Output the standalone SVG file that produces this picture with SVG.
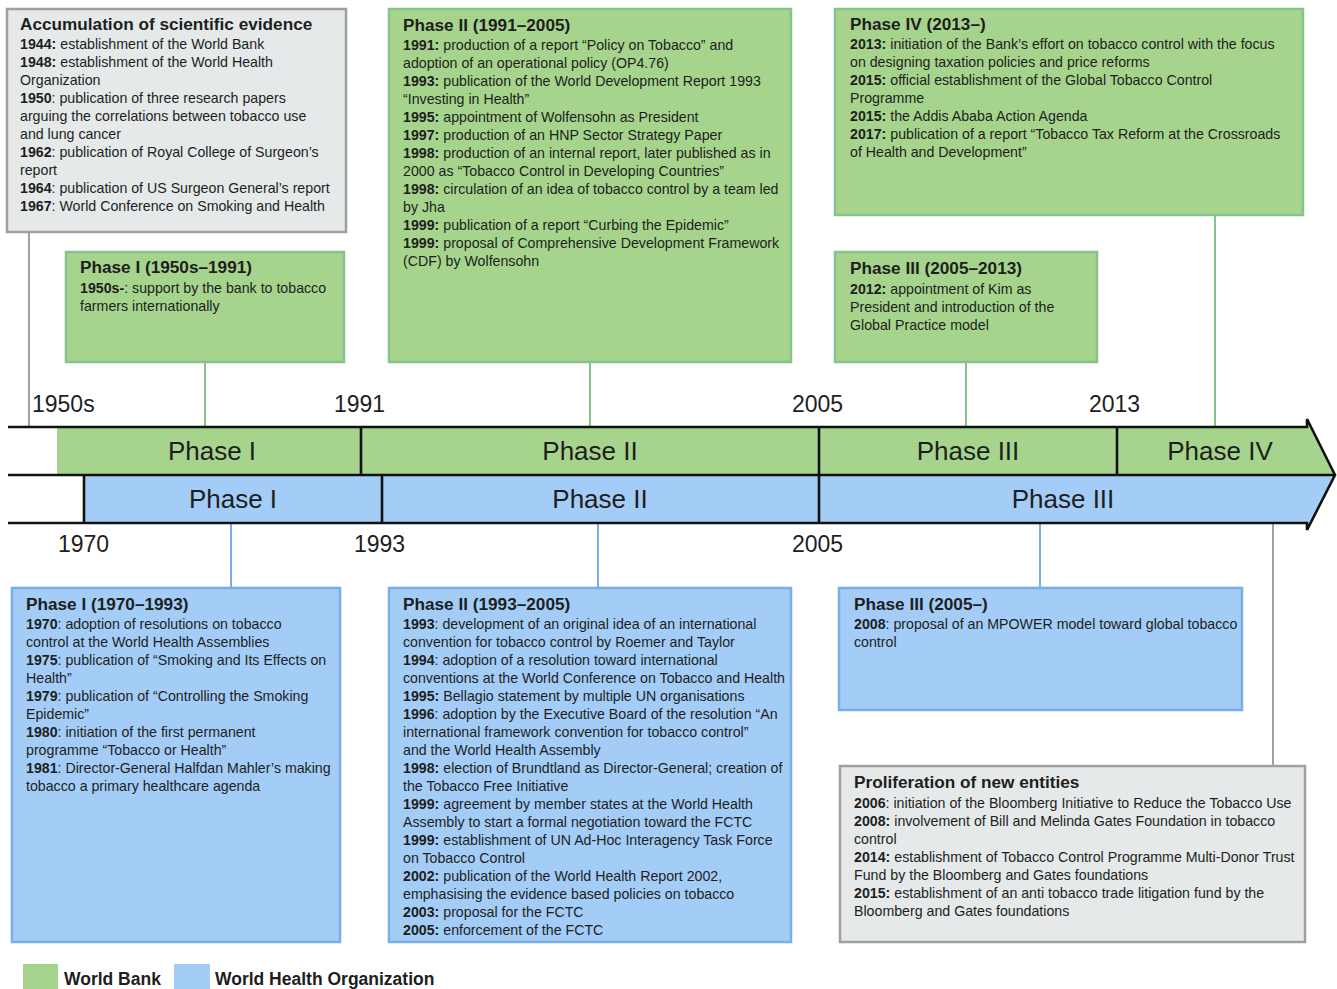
<svg xmlns="http://www.w3.org/2000/svg" width="1337" height="989" viewBox="0 0 1337 989">
  <style>
    .wb { fill: #a6d48d; stroke: #86c38c; stroke-width: 2.5; }
    .who { fill: #a3cdf6; stroke: #7aaee6; stroke-width: 2.5; }
    .ev { fill: #e5e9e9; stroke: #a0a0a0; stroke-width: 2.5; }
    text { font-family: "Liberation Sans", Arial, sans-serif; fill: #1e1e1e; }
    .h { font-size: 17.2px; font-weight: bold; }
    .t { font-size: 14.2px; }
    .t tspan.y { font-weight: bold; }
    .phase { font-size: 26px; text-anchor: middle; }
    .year { font-size: 23px; }
    .leg { font-size: 17.5px; font-weight: bold; }
    .c-wb { stroke: #86c38c; stroke-width: 2; }
    .c-who { stroke: #7aaee6; stroke-width: 2; }
    .c-ev { stroke: #a0a0a0; stroke-width: 2; }
    .edge { fill: none; stroke: #111; stroke-width: 2.6; }
  </style>

  <!-- connectors from the boxes to the timeline -->
  <g id="connectors">
    <line class="c-ev" x1="29" y1="232" x2="29" y2="427"/>
    <line class="c-wb" x1="205" y1="362" x2="205" y2="427"/>
    <line class="c-wb" x1="590" y1="362" x2="590" y2="427"/>
    <line class="c-wb" x1="966" y1="362" x2="966" y2="427"/>
    <line class="c-wb" x1="1215" y1="215" x2="1215" y2="427"/>
    <line class="c-who" x1="231" y1="523" x2="231" y2="588"/>
    <line class="c-who" x1="598" y1="523" x2="598" y2="588"/>
    <line class="c-who" x1="1040" y1="523" x2="1040" y2="588"/>
    <line class="c-ev" x1="1273" y1="523" x2="1273" y2="766"/>
  </g>

  <!-- timeline arrow -->
  <g id="timeline">
    <polygon points="57,427 1307,427 1307,419 1335,475 57,475" fill="#a6d48d"/>
    <polygon points="84,475 1335,475 1307,530 1307,523 84,523" fill="#a3cdf6"/>
    <path class="edge" d="M8,427 H1307 V419 L1335,475 L1307,530 V523 H8 M8,475 H1335"/>
    <path class="edge" d="M361,427 V475 M819,427 V475 M1117,427 V475 M84,475 V523 M382,475 V523 M819,475 V523"/>
    <text class="phase" x="212" y="460">Phase I</text>
    <text class="phase" x="590" y="460">Phase II</text>
    <text class="phase" x="968" y="460">Phase III</text>
    <text class="phase" x="1220" y="460">Phase IV</text>
    <text class="phase" x="233" y="508">Phase I</text>
    <text class="phase" x="600" y="508">Phase II</text>
    <text class="phase" x="1063" y="508">Phase III</text>
    <text class="year" x="32" y="412">1950s</text>
    <text class="year" x="334" y="412">1991</text>
    <text class="year" x="792" y="412">2005</text>
    <text class="year" x="1089" y="412">2013</text>
    <text class="year" x="58" y="552">1970</text>
    <text class="year" x="354" y="552">1993</text>
    <text class="year" x="792" y="552">2005</text>
  </g>

  <g id="evidence">
    <rect class="ev" x="7" y="9" width="339" height="223"/>
    <text class="h" x="20" y="30">Accumulation of scientific evidence</text>
    <text class="t">
      <tspan x="20" y="49"><tspan class="y">1944:</tspan> establishment of the World Bank</tspan>
      <tspan x="20" y="67"><tspan class="y">1948:</tspan> establishment of the World Health</tspan>
      <tspan x="20" y="85">Organization</tspan>
      <tspan x="20" y="103"><tspan class="y">1950</tspan>: publication of three research papers</tspan>
      <tspan x="20" y="121">arguing the correlations between tobacco use</tspan>
      <tspan x="20" y="139">and lung cancer</tspan>
      <tspan x="20" y="157"><tspan class="y">1962</tspan>: publication of Royal College of Surgeon’s</tspan>
      <tspan x="20" y="175">report</tspan>
      <tspan x="20" y="193"><tspan class="y">1964</tspan>: publication of US Surgeon General’s report</tspan>
      <tspan x="20" y="211"><tspan class="y">1967</tspan>: World Conference on Smoking and Health</tspan>
    </text>
  </g>

  <g id="wb-phase1">
    <rect class="wb" x="66" y="252" width="278" height="110"/>
    <text class="h" x="80" y="273">Phase I (1950s–1991)</text>
    <text class="t">
      <tspan x="80" y="293"><tspan class="y">1950s-</tspan>: support by the bank to tobacco</tspan>
      <tspan x="80" y="311">farmers internationally</tspan>
    </text>
  </g>

  <g id="wb-phase2">
    <rect class="wb" x="389" y="9" width="402" height="353"/>
    <text class="h" x="403" y="31">Phase II (1991–2005)</text>
    <text class="t">
      <tspan x="403" y="50"><tspan class="y">1991:</tspan> production of a report “Policy on Tobacco” and</tspan>
      <tspan x="403" y="68">adoption of an operational policy (OP4.76)</tspan>
      <tspan x="403" y="86"><tspan class="y">1993:</tspan> publication of the World Development Report 1993</tspan>
      <tspan x="403" y="104">“Investing in Health”</tspan>
      <tspan x="403" y="122"><tspan class="y">1995:</tspan> appointment of Wolfensohn as President</tspan>
      <tspan x="403" y="140"><tspan class="y">1997:</tspan> production of an HNP Sector Strategy Paper</tspan>
      <tspan x="403" y="158"><tspan class="y">1998:</tspan> production of an internal report, later published as in</tspan>
      <tspan x="403" y="176">2000 as “Tobacco Control in Developing Countries”</tspan>
      <tspan x="403" y="194"><tspan class="y">1998:</tspan> circulation of an idea of tobacco control by a team led</tspan>
      <tspan x="403" y="212">by Jha</tspan>
      <tspan x="403" y="230"><tspan class="y">1999:</tspan> publication of a report “Curbing the Epidemic”</tspan>
      <tspan x="403" y="248"><tspan class="y">1999:</tspan> proposal of Comprehensive Development Framework</tspan>
      <tspan x="403" y="266">(CDF) by Wolfensohn</tspan>
    </text>
  </g>

  <g id="wb-phase3">
    <rect class="wb" x="835" y="252" width="262" height="110"/>
    <text class="h" x="850" y="274">Phase III (2005–2013)</text>
    <text class="t">
      <tspan x="850" y="294"><tspan class="y">2012:</tspan> appointment of Kim as</tspan>
      <tspan x="850" y="312">President and introduction of the</tspan>
      <tspan x="850" y="330">Global Practice model</tspan>
    </text>
  </g>

  <g id="wb-phase4">
    <rect class="wb" x="835" y="9" width="468" height="206"/>
    <text class="h" x="850" y="30">Phase IV (2013–)</text>
    <text class="t">
      <tspan x="850" y="49"><tspan class="y">2013:</tspan> initiation of the Bank’s effort on tobacco control with the focus</tspan>
      <tspan x="850" y="67">on designing taxation policies and price reforms</tspan>
      <tspan x="850" y="85"><tspan class="y">2015:</tspan> official establishment of the Global Tobacco Control</tspan>
      <tspan x="850" y="103">Programme</tspan>
      <tspan x="850" y="121"><tspan class="y">2015:</tspan> the Addis Ababa Action Agenda</tspan>
      <tspan x="850" y="139"><tspan class="y">2017:</tspan> publication of a report “Tobacco Tax Reform at the Crossroads</tspan>
      <tspan x="850" y="157">of Health and Development”</tspan>
    </text>
  </g>

  <g id="who-phase1">
    <rect class="who" x="12" y="588" width="328" height="354"/>
    <text class="h" x="26" y="610">Phase I (1970–1993)</text>
    <text class="t">
      <tspan x="26" y="629"><tspan class="y">1970</tspan>: adoption of resolutions on tobacco</tspan>
      <tspan x="26" y="647">control at the World Health Assemblies</tspan>
      <tspan x="26" y="665"><tspan class="y">1975</tspan>: publication of “Smoking and Its Effects on</tspan>
      <tspan x="26" y="683">Health”</tspan>
      <tspan x="26" y="701"><tspan class="y">1979</tspan>: publication of “Controlling the Smoking</tspan>
      <tspan x="26" y="719">Epidemic”</tspan>
      <tspan x="26" y="737"><tspan class="y">1980</tspan>: initiation of the first permanent</tspan>
      <tspan x="26" y="755">programme “Tobacco or Health”</tspan>
      <tspan x="26" y="773"><tspan class="y">1981</tspan>: Director-General Halfdan Mahler’s making</tspan>
      <tspan x="26" y="791">tobacco a primary healthcare agenda</tspan>
    </text>
  </g>

  <g id="who-phase2">
    <rect class="who" x="389" y="588" width="402" height="354"/>
    <text class="h" x="403" y="610">Phase II (1993–2005)</text>
    <text class="t">
      <tspan x="403" y="629"><tspan class="y">1993</tspan>: development of an original idea of an international</tspan>
      <tspan x="403" y="647">convention for tobacco control by Roemer and Taylor</tspan>
      <tspan x="403" y="665"><tspan class="y">1994</tspan>: adoption of a resolution toward international</tspan>
      <tspan x="403" y="683">conventions at the World Conference on Tobacco and Health</tspan>
      <tspan x="403" y="701"><tspan class="y">1995:</tspan> Bellagio statement by multiple UN organisations</tspan>
      <tspan x="403" y="719"><tspan class="y">1996</tspan>: adoption by the Executive Board of the resolution “An</tspan>
      <tspan x="403" y="737">international framework convention for tobacco control”</tspan>
      <tspan x="403" y="755">and the World Health Assembly</tspan>
      <tspan x="403" y="773"><tspan class="y">1998:</tspan> election of Brundtland as Director-General; creation of</tspan>
      <tspan x="403" y="791">the Tobacco Free Initiative</tspan>
      <tspan x="403" y="809"><tspan class="y">1999:</tspan> agreement by member states at the World Health</tspan>
      <tspan x="403" y="827">Assembly to start a formal negotiation toward the FCTC</tspan>
      <tspan x="403" y="845"><tspan class="y">1999:</tspan> establishment of UN Ad-Hoc Interagency Task Force</tspan>
      <tspan x="403" y="863">on Tobacco Control</tspan>
      <tspan x="403" y="881"><tspan class="y">2002:</tspan> publication of the World Health Report 2002,</tspan>
      <tspan x="403" y="899">emphasising the evidence based policies on tobacco</tspan>
      <tspan x="403" y="917"><tspan class="y">2003:</tspan> proposal for the FCTC</tspan>
      <tspan x="403" y="935"><tspan class="y">2005:</tspan> enforcement of the FCTC</tspan>
    </text>
  </g>

  <g id="who-phase3">
    <rect class="who" x="839" y="588" width="403" height="122"/>
    <text class="h" x="854" y="610">Phase III (2005–)</text>
    <text class="t">
      <tspan x="854" y="629"><tspan class="y">2008</tspan>: proposal of an MPOWER model toward global tobacco</tspan>
      <tspan x="854" y="647">control</tspan>
    </text>
  </g>

  <g id="new-entities">
    <rect class="ev" x="840" y="766" width="465" height="176"/>
    <text class="h" x="854" y="788">Proliferation of new entities</text>
    <text class="t">
      <tspan x="854" y="808"><tspan class="y">2006</tspan>: initiation of the Bloomberg Initiative to Reduce the Tobacco Use</tspan>
      <tspan x="854" y="826"><tspan class="y">2008:</tspan> involvement of Bill and Melinda Gates Foundation in tobacco</tspan>
      <tspan x="854" y="844">control</tspan>
      <tspan x="854" y="862"><tspan class="y">2014:</tspan> establishment of Tobacco Control Programme Multi-Donor Trust</tspan>
      <tspan x="854" y="880">Fund by the Bloomberg and Gates foundations</tspan>
      <tspan x="854" y="898"><tspan class="y">2015:</tspan> establishment of an anti tobacco trade litigation fund by the</tspan>
      <tspan x="854" y="916">Bloomberg and Gates foundations</tspan>
    </text>
  </g>

  <g id="legend">
    <rect x="23" y="964" width="35" height="26" fill="#a6d48d"/>
    <text class="leg" x="64" y="985">World Bank</text>
    <rect x="174" y="964" width="36" height="26" fill="#a3cdf6"/>
    <text class="leg" x="215" y="985">World Health Organization</text>
  </g>
</svg>
